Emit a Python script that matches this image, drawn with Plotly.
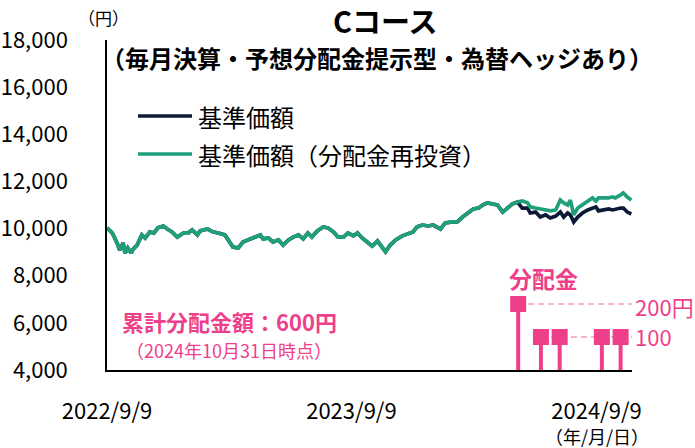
import plotly.graph_objects as go

# ---------------- data ----------------
dates = [
    "2022-09-09", "2022-09-17", "2022-09-24", "2022-09-28", "2022-10-03", "2022-10-06", "2022-10-10",
    "2022-10-15", "2022-10-18", "2022-10-24", "2022-10-31", "2022-11-05", "2022-11-12", "2022-11-18",
    "2022-11-24", "2022-12-02", "2022-12-08", "2022-12-15", "2022-12-23", "2023-01-01", "2023-01-08",
    "2023-01-14", "2023-01-22", "2023-01-26", "2023-02-06", "2023-02-14", "2023-02-22", "2023-03-04",
    "2023-03-09", "2023-03-16", "2023-03-24", "2023-03-31", "2023-04-11", "2023-04-18", "2023-04-26",
    "2023-04-30", "2023-05-08", "2023-05-15", "2023-05-23", "2023-05-30", "2023-06-07", "2023-06-14",
    "2023-06-22", "2023-06-29", "2023-07-06", "2023-07-12", "2023-07-20", "2023-07-29", "2023-08-05",
    "2023-08-13", "2023-08-20", "2023-08-28", "2023-09-04", "2023-09-12", "2023-09-18", "2023-09-25",
    "2023-10-04", "2023-10-10", "2023-10-18", "2023-10-22", "2023-10-30", "2023-11-06", "2023-11-14",
    "2023-11-24", "2023-12-03", "2023-12-10", "2023-12-16", "2023-12-24", "2024-01-02", "2024-01-09",
    "2024-01-20", "2024-01-27", "2024-02-07", "2024-02-14", "2024-02-22", "2024-02-29", "2024-03-09",
    "2024-03-17", "2024-03-23", "2024-03-30", "2024-04-07", "2024-04-14", "2024-04-22", "2024-04-29",
    "2024-05-06", "2024-05-14", "2024-05-21", "2024-05-29", "2024-06-02", "2024-06-10", "2024-06-17",
    "2024-06-25", "2024-07-02", "2024-07-10", "2024-07-14", "2024-07-17", "2024-07-22", "2024-07-28",
    "2024-08-01", "2024-08-06", "2024-08-12", "2024-08-19", "2024-08-27", "2024-09-03", "2024-09-08",
    "2024-09-12", "2024-09-20", "2024-09-27", "2024-10-03", "2024-10-07", "2024-10-15", "2024-10-19",
    "2024-10-25", "2024-10-31",
]

nav_reinvested = [
    10030, 9810, 9390, 9090, 9390, 8960, 9180, 8960, 9130, 9300, 9730, 9600, 9860, 9810,
    10030, 10110, 9980, 9860, 9640, 9810, 9810, 9940, 9730, 9900, 9980, 9860, 9810, 9730,
    9520, 9220, 9180, 9430, 9560, 9640, 9730, 9560, 9600, 9430, 9520, 9300, 9520, 9640,
    9730, 9560, 9810, 9640, 9900, 10070, 10030, 9860, 9640, 9640, 9810, 9690, 9810, 9600,
    9390, 9260, 9470, 9300, 9010, 9300, 9520, 9690, 9770, 9860, 10070, 10150, 10110, 10150,
    9980, 10240, 10280, 10280, 10490, 10660, 10830, 10870, 11000, 11090, 11040, 11000, 10700, 10870,
    11040, 11130, 11170, 11090, 10920, 10870, 10830, 10790, 10750, 10790, 11000, 11210, 11090, 11000,
    11210, 10580, 10870, 11000, 11130, 11300, 11170, 11300, 11300, 11300, 11340, 11300, 11430, 11510,
    11340, 11210,
]

nav = [
    10030, 9810, 9390, 9090, 9390, 8960, 9180, 8960, 9130, 9300, 9730, 9600, 9860, 9810,
    10030, 10110, 9980, 9860, 9640, 9810, 9810, 9940, 9730, 9900, 9980, 9860, 9810, 9730,
    9520, 9220, 9180, 9430, 9560, 9640, 9730, 9560, 9600, 9430, 9520, 9300, 9520, 9640,
    9730, 9560, 9810, 9640, 9900, 10070, 10030, 9860, 9640, 9640, 9810, 9690, 9810, 9600,
    9390, 9260, 9470, 9300, 9010, 9300, 9520, 9690, 9770, 9860, 10070, 10150, 10110, 10150,
    9980, 10240, 10280, 10280, 10490, 10660, 10830, 10870, 11000, 11090, 11040, 11000, 10700, 10870,
    11040, 11130, 10870, 10870, 10660, 10700, 10490, 10580, 10450, 10530, 10620, 10700, 10490, 10660,
    10580, 10280, 10490, 10660, 10790, 10870, 10920, 10750, 10790, 10830, 10790, 10830, 10870, 10870,
    10700, 10620,
]

div_dates = ["2024-05-15", "2024-06-18", "2024-07-16", "2024-09-17", "2024-10-15"]
div_values = [200, 100, 100, 100, 100]

y_ticks = [4000, 6000, 8000, 10000, 12000, 14000, 16000, 18000]
y_tick_text = ["4,000", "6,000", "8,000", "10,000", "12,000", "14,000", "16,000", "18,000"]
x_ticks = ["2022-09-09", "2023-09-09", "2024-09-09"]
x_tick_text = ["2022/9/9", "2023/9/9", "2024/9/9"]
ref_levels = [200, 100]
ref_labels = ["200円", "100"]

# ---------------- style ----------------
NAVY = "#0d1a36"
GREEN = "#20a07a"
PINK = "#ee3f8b"
PINK_LIGHT = "#f9b3d1"
FONT = "Noto Sans CJK JP"

W, H = 695, 448
L, R, T, B = 107, 632, 40, 370


def px(x):
    return (x - L) / (R - L)


def py(y):
    return (B - y) / (B - T)


fig = go.Figure()

fig.add_trace(go.Scatter(x=dates, y=nav, mode="lines",
                         line=dict(color=NAVY, width=3.7), showlegend=False))
fig.add_trace(go.Scatter(x=dates, y=nav_reinvested, mode="lines",
                         line=dict(color=GREEN, width=3.7), showlegend=False))

# dividend stems
stem_x, stem_y = [], []
for d, v in zip(div_dates, div_values):
    stem_x += [d, d, None]
    stem_y += [0, v, None]
fig.add_trace(go.Scatter(x=stem_x, y=stem_y, mode="lines", yaxis="y2",
                         line=dict(color=PINK, width=4), showlegend=False, hoverinfo="skip"))
fig.add_trace(go.Scatter(x=div_dates, y=div_values, mode="markers", yaxis="y2",
                         marker=dict(symbol="square", size=16, color=PINK),
                         showlegend=False))

shapes = []
# reference dashed lines for dividends
shapes.append(dict(type="line", xref="x", yref="y2", x0=div_dates[0], x1="2024-11-01",
                   y0=ref_levels[0], y1=ref_levels[0],
                   line=dict(color=PINK_LIGHT, width=2, dash="6px,4px"), layer="below"))
shapes.append(dict(type="line", xref="x", yref="y2", x0=div_dates[1], x1="2024-11-01",
                   y0=ref_levels[1], y1=ref_levels[1],
                   line=dict(color=PINK_LIGHT, width=2, dash="6px,4px"), layer="below"))
# manual legend lines
shapes.append(dict(type="line", xref="paper", yref="paper", x0=px(138), x1=px(192),
                   y0=py(116), y1=py(116), line=dict(color=NAVY, width=3.7)))
shapes.append(dict(type="line", xref="paper", yref="paper", x0=px(138), x1=px(192),
                   y0=py(154), y1=py(154), line=dict(color=GREEN, width=3.7)))

ann = []


def add_text(text, x, y, size, color="#000000", bold=False, xanchor="left"):
    ann.append(dict(text=f"<b>{text}</b>" if bold else text, xref="paper", yref="paper",
                    x=px(x), y=py(y), xanchor=xanchor, yanchor="middle", showarrow=False,
                    font=dict(size=size, color=color, family=FONT)))


add_text("Cコース", 385, 20, 29, bold=True, xanchor="center")
add_text("（毎月決算・予想分配金提示型・為替ヘッジあり）", 377, 57, 24, bold=True, xanchor="center")
add_text("（円）", 103, 17, 17, xanchor="center")
add_text("基準価額", 196, 116, 24)
add_text("基準価額（分配金再投資）", 196, 154, 24)
add_text("分配金", 543, 278, 23, color=PINK, bold=True, xanchor="center")
add_text(ref_labels[0], 633, 306, 22, color=PINK)
add_text(ref_labels[1], 633, 336, 22, color=PINK)
add_text("累計分配金額：600円", 120, 321, 22, color=PINK, bold=True)
add_text("（2024年10月31日時点）", 124, 350, 18, color=PINK)
add_text("（年/月/日）", 597, 436, 18, xanchor="center")

fig.update_layout(
    width=W, height=H,
    margin=dict(l=L, r=W - R, t=T, b=H - B, pad=0),
    paper_bgcolor="white", plot_bgcolor="white",
    font=dict(family=FONT, color="#000000"),
    shapes=shapes, annotations=ann,
    xaxis=dict(type="date", range=["2022-09-09", "2024-11-01"], showgrid=False, zeroline=False,
               showline=True, linecolor="#000000", linewidth=1.5, automargin=False,
               tickvals=x_ticks, ticktext=x_tick_text, ticks="",
               tickfont=dict(size=22, family=FONT), ticklabelstandoff=21),
    yaxis=dict(range=[4000, 18000], showgrid=False, zeroline=False,
               showline=True, linecolor="#000000", linewidth=1.5, automargin=False,
               tickvals=y_ticks, ticktext=y_tick_text, ticks="",
               tickfont=dict(size=22, family=FONT), ticklabelstandoff=33),
    yaxis2=dict(range=[0, 1000], overlaying="y", side="right", visible=False),
    showlegend=False,
)

fig.write_html("out.html", config={"displayModeBar": False},
               post_script="document.body.style.margin='0';")
